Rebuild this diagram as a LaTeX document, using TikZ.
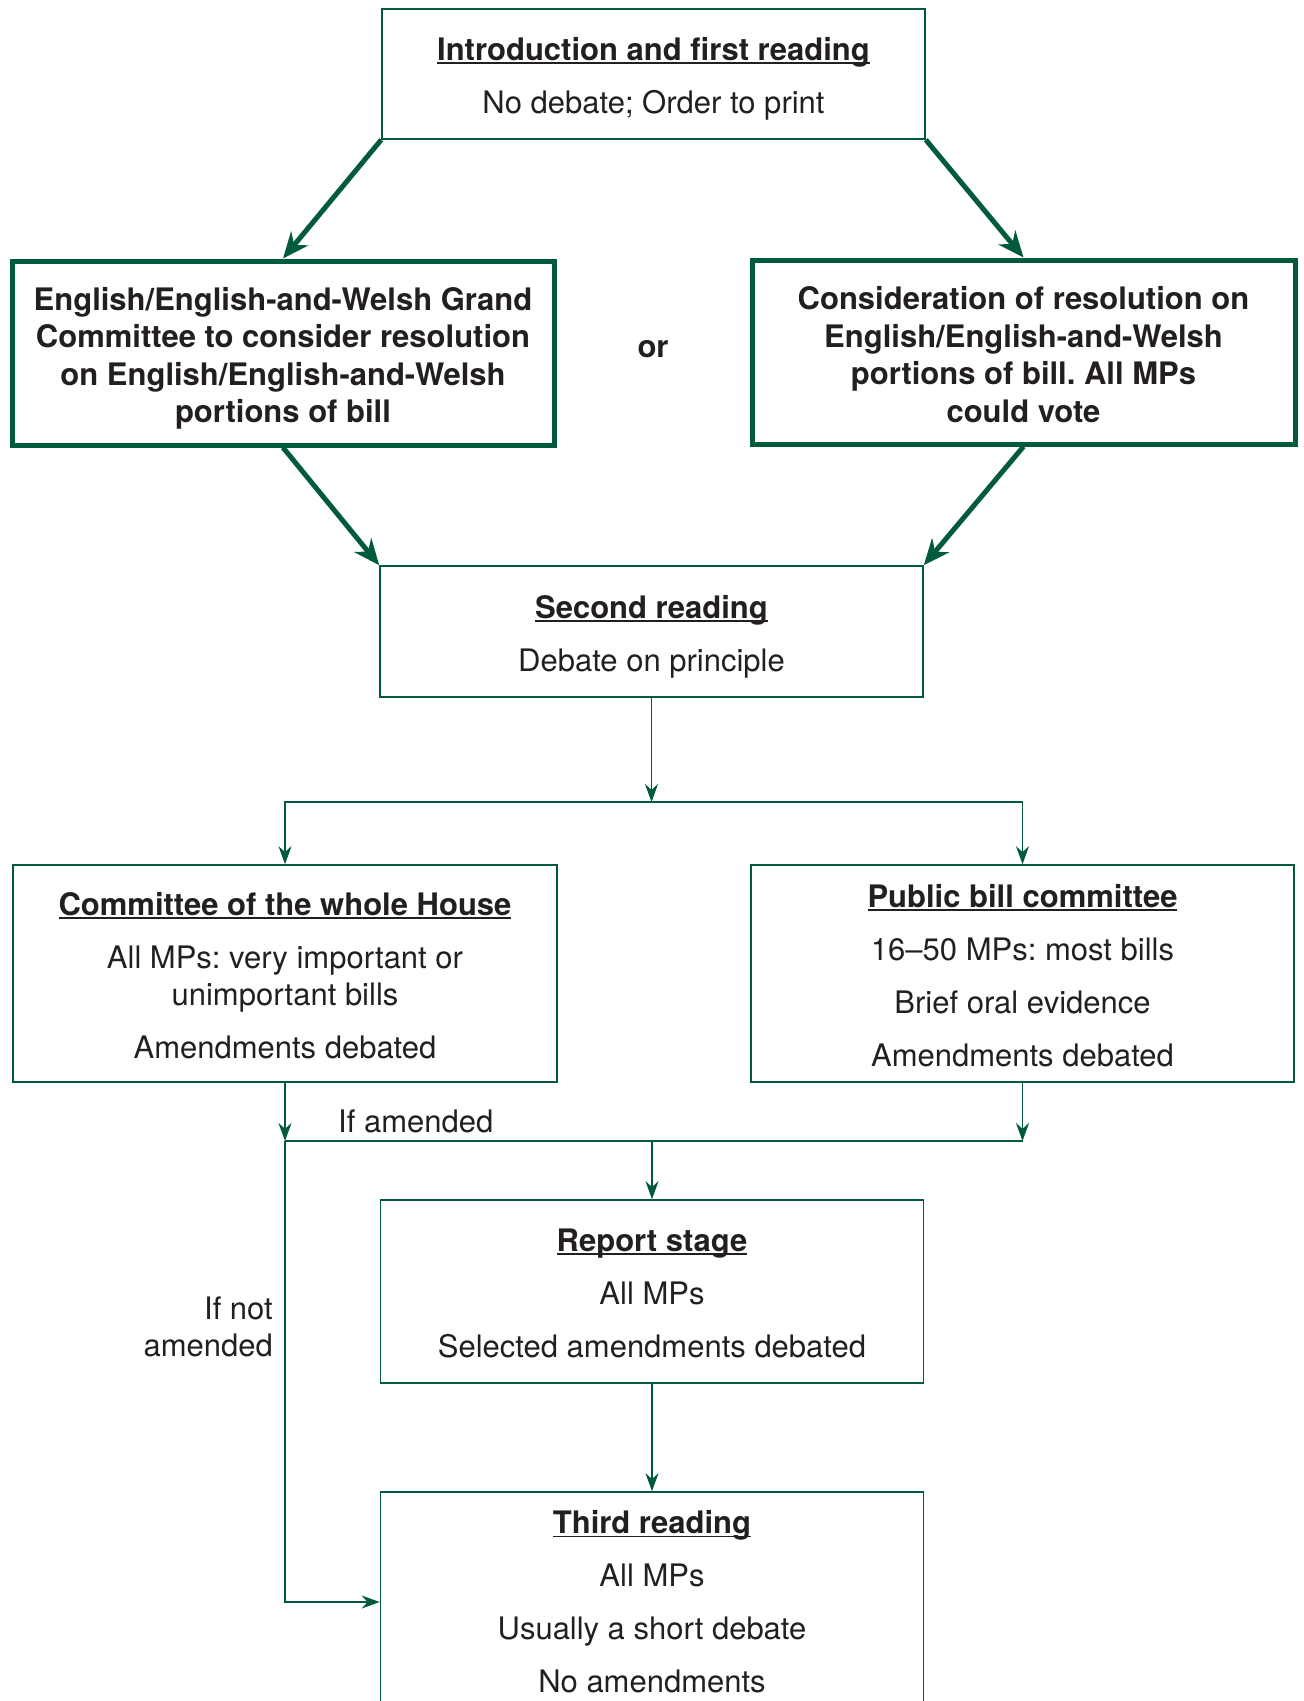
\documentclass[tikz,border=0pt]{standalone}
\usepackage{fontspec}
\setmainfont{TeX Gyre Heros}
\usetikzlibrary{arrows.meta}
\definecolor{dg}{HTML}{005A3C}
\definecolor{tx}{HTML}{231F20}
\newsavebox\ulbox
\newcommand\myul[1]{\sbox\ulbox{#1}\rlap{\rule[-3.5pt]{\wd\ulbox}{1.8pt}}\usebox\ulbox}
\frenchspacing
\begin{document}
\begin{tikzpicture}[x=1pt,y=-1pt,
 box/.style={draw=dg, line width=1.6pt, inner sep=0pt},
 thickbox/.style={draw=dg, line width=5pt, inner sep=0pt},
 txt/.style={inner sep=0pt, align=center, text=tx, font=\fontsize{31}{37.5}\selectfont},
 btxt/.style={inner sep=0pt, align=center, text=tx, font=\bfseries\fontsize{31}{37.5}\selectfont},
 thinarrow/.style={draw=dg, line width=1.6pt, -{Stealth[length=18pt,width=13pt]}},
 thinline/.style={draw=dg, line width=1.6pt},
 thickarrow/.style={draw=dg, line width=5pt, -{Stealth[length=26pt,width=22pt]}}]
\useasboundingbox (0,0) rectangle (1304,1701);

\node[box, minimum width=543pt, minimum height=130pt] (intro) at (653.5,74) {};
\node[txt] (intro-t) at ([yshift=-5pt]intro.center)
 {\textbf{\myul{Introduction and first reading}}\\[15.5pt] No debate; Order to print};

\node[thickbox, minimum width=542pt, minimum height=184pt] (lg) at (283,353) {};
\node[btxt] (lg-t) at ([yshift=-5.5pt]lg.center)
 {English/English-and-Welsh Grand\\ Committee to consider resolution\\ on English/English-and-Welsh\\ portions of bill};

\node[thickbox, minimum width=543pt, minimum height=184pt] (rg) at (1023.5,352) {};
\node[btxt] (rg-t) at ([yshift=-2.5pt]rg.center)
 {Consideration of resolution on\\ English/English-and-Welsh\\ portions of bill. All MPs\\ could vote};

\node[btxt] (or) at (653,349) {or};

\node[box, minimum width=543pt, minimum height=131pt] (sr) at (651.5,631.5) {};
\node[txt] (sr-t) at ([yshift=-5pt]sr.center)
 {\textbf{\myul{Second reading}}\\[15.5pt] Debate on principle};

\node[box, minimum width=544pt, minimum height=217pt] (cwh) at (285,973.5) {};
\node[txt] (cwh-t) at ([yshift=-2pt]cwh.center)
 {\textbf{\myul{Committee of the whole House}}\\[15.5pt] All MPs: very important or\\ unimportant bills\\[15.5pt] Amendments debated};

\node[box, minimum width=543pt, minimum height=217pt] (pbc) at (1022.5,973.5) {};
\node[txt] (pbc-t) at ([yshift=-2pt]pbc.center)
 {\textbf{\myul{Public bill committee}}\\[15.5pt] 16–50 MPs: most bills\\[15.5pt] Brief oral evidence\\[15.5pt] Amendments debated};

\node[box, minimum width=543pt, minimum height=183pt] (rep) at (652,1291.5) {};
\node[txt] (rep-t) at ([yshift=-2pt]rep.center)
 {\textbf{\myul{Report stage}}\\[15.5pt] All MPs\\[15.5pt] Selected amendments debated};

\node[box, minimum width=543pt, minimum height=220pt] (third) at (652,1602) {};
\node[txt] (third-t) at ([yshift=0pt]third.center)
 {\textbf{\myul{Third reading}}\\[15.5pt] All MPs\\[15.5pt] Usually a short debate\\[15.5pt] No amendments};

\node[txt, anchor=west] (ifam) at (338,1121) {If amended};
\node[txt, anchor=east, align=right] (ifnot) at (273,1327) {If not\\ amended};

% thick arrows
\draw[thickarrow] (intro.south west) -- (lg.north);
\draw[thickarrow] (intro.south east) -- (rg.north);
\draw[thickarrow] (lg.south) -- (sr.north west);
\draw[thickarrow] (rg.south) -- (sr.north east);

% thin connectors
\coordinate (j1) at (sr.south |- 0,802);
\draw[thinarrow] (sr.south) -- (j1);
\draw[thinarrow] (j1) -| (cwh.north);
\draw[thinarrow] (j1) -| (pbc.north);

\coordinate (j2) at (cwh.south |- 0,1141);
\coordinate (j3) at (pbc.south |- 0,1141);
\coordinate (j4) at (rep.north |- 0,1141);
\draw[thinarrow] (cwh.south) -- (j2);
\draw[thinarrow] (pbc.south) -- (j3);
\draw[thinline] (j2) -- (j3);
\draw[thinarrow] (j4) -- (rep.north);
\draw[thinarrow] (j2) |- (third.west);
\draw[thinarrow] (rep.south) -- (third.north);
\end{tikzpicture}
\end{document}
